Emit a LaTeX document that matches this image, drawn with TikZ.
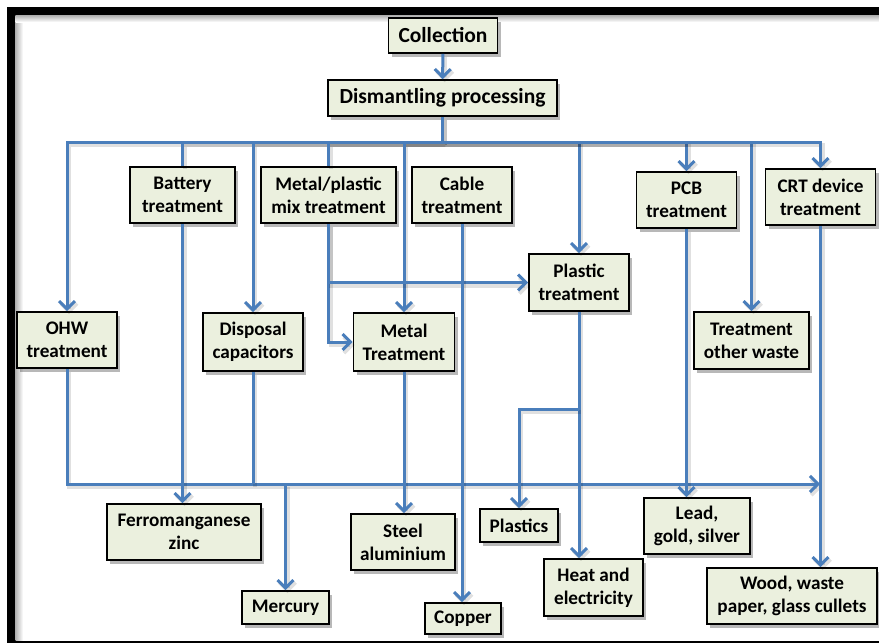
\documentclass[tikz,border=0pt]{standalone}
\usepackage{fontspec}
\setmainfont{Carlito}
\usetikzlibrary{arrows.meta,shadows}
\definecolor{lineblue}{HTML}{4A7EBB}
\definecolor{boxfill}{HTML}{EBF0DE}
\begin{document}
\begin{tikzpicture}[x=1pt,y=-1pt,
  box/.style={draw=black, line width=1.6pt, fill=boxfill, align=center, inner sep=0pt,
    font=\bfseries\fontsize{19.2}{23}\selectfont,
    drop shadow={shadow xshift=3pt, shadow yshift=-4pt, fill=black, opacity=0.28}},
  bigbox/.style={box, font=\bfseries\fontsize{21.5}{26}\selectfont},
  conn/.style={draw=lineblue, line width=3pt,
    preaction={draw=black, opacity=0.12, line width=4pt, transform canvas={shift={(2pt,-3pt)}}}},
  arr/.style={conn, -{Straight Barb[length=8pt,width=16pt]}}]
\useasboundingbox (0,0) rectangle (879,643);
% frame
\fill[black] (7,7) rectangle (879,642.5);
\fill[white] (15.5,15.5) rectangle (879,640.5);
\shade[left color=black!30, right color=white] (15.5,15.5) rectangle (23,640.5);
\shade[top color=black!30, bottom color=white] (15.5,15.5) rectangle (879,22);
% nodes
\node[bigbox, minimum width=109pt, minimum height=35pt] (coll) at (443,35.5) {Collection};
\node[bigbox, minimum width=229pt, minimum height=36pt] (dism) at (442.5,98) {Dismantling processing};
\node[box, minimum width=105pt, minimum height=56pt] (batt) at (182.5,195) {Battery\\treatment};
\node[box, minimum width=135pt, minimum height=56pt] (mix) at (328.5,195) {Metal/plastic\\mix treatment};
\node[box, minimum width=100pt, minimum height=56pt] (cable) at (462,195) {Cable\\treatment};
\node[box, minimum width=100pt, minimum height=56pt] (pcb) at (686.5,200) {PCB\\treatment};
\node[box, minimum width=110pt, minimum height=56pt] (crt) at (820.5,197) {CRT device\\treatment};
\node[box, minimum width=100pt, minimum height=57pt] (plt) at (579,282.5) {Plastic\\treatment};
\node[box, minimum width=100pt, minimum height=56pt] (ohw) at (67,340) {OHW\\treatment};
\node[box, minimum width=100pt, minimum height=58pt] (disp) at (253,342) {Disposal\\capacitors};
\node[box, minimum width=101pt, minimum height=58pt] (mt) at (404,342) {Metal\\Treatment};
\node[box, minimum width=115pt, minimum height=57pt] (tow) at (751.5,340.5) {Treatment\\other waste};
\node[box, minimum width=154pt, minimum height=56pt] (ferro) at (184,532) {Ferromanganese\\zinc};
\node[box, minimum width=87pt, minimum height=33pt] (merc) at (285.5,607.5) {Mercury};
\node[box, minimum width=104pt, minimum height=56pt] (steel) at (403,542) {Steel\\aluminium};
\node[box, minimum width=76pt, minimum height=31pt] (copper) at (463,618.5) {Copper};
\node[box, minimum width=78pt, minimum height=33pt] (plastics) at (519,525.5) {Plastics};
\node[box, minimum width=99pt, minimum height=57pt] (heat) at (593.5,587.5) {Heat and\\electricity};
\node[box, minimum width=106pt, minimum height=56pt] (lead) at (697,526) {Lead,\\gold, silver};
\node[box, minimum width=170pt, minimum height=56pt] (wood) at (792,596) {Wood, waste\\paper, glass cullets};
% connectors
\coordinate (bus) at (443,142);
\coordinate (busend) at (820,484);
\coordinate (pbranch) at (579,409);
\draw[arr] (coll) -- (dism);
\draw[arr] (dism.south) |- (bus) -| (ohw.north);
\draw[conn] (dism.south) |- (bus) -| (batt.north);
\draw[arr] (bus) -| (disp.north);
\draw[conn] (bus) -| (mix.north);
\draw[arr] (bus) -| (mt.north);
\draw[arr] (bus) -| (plt.north);
\draw[arr] (bus) -| (pcb.north);
\draw[arr] (bus) -| (tow.north);
\draw[arr] (bus) -| (crt.north);
\draw[arr] (mix.south) |- (mt.west);
\draw[arr] (mix.south) |- (plt.west);
\draw[arr] (ohw.south) |- (busend);
\draw[conn] (disp.south) -- (disp.south |- busend);
\draw[arr] (merc.north |- busend) -- (merc.north);
\draw[arr] (batt.south) -- (batt.south |- ferro.north);
\draw[arr] (mt.south) -- (mt.south |- steel.north);
\draw[arr] (cable.south) -- (cable.south |- copper.north);
\draw[arr] (plt.south) -- (plt.south |- heat.north);
\draw[arr] (pbranch) -| (plastics.north);
\draw[arr] (pcb.south) -- (pcb.south |- lead.north);
\draw[arr] (crt.south) -- (crt.south |- wood.north);
\end{tikzpicture}
\end{document}
